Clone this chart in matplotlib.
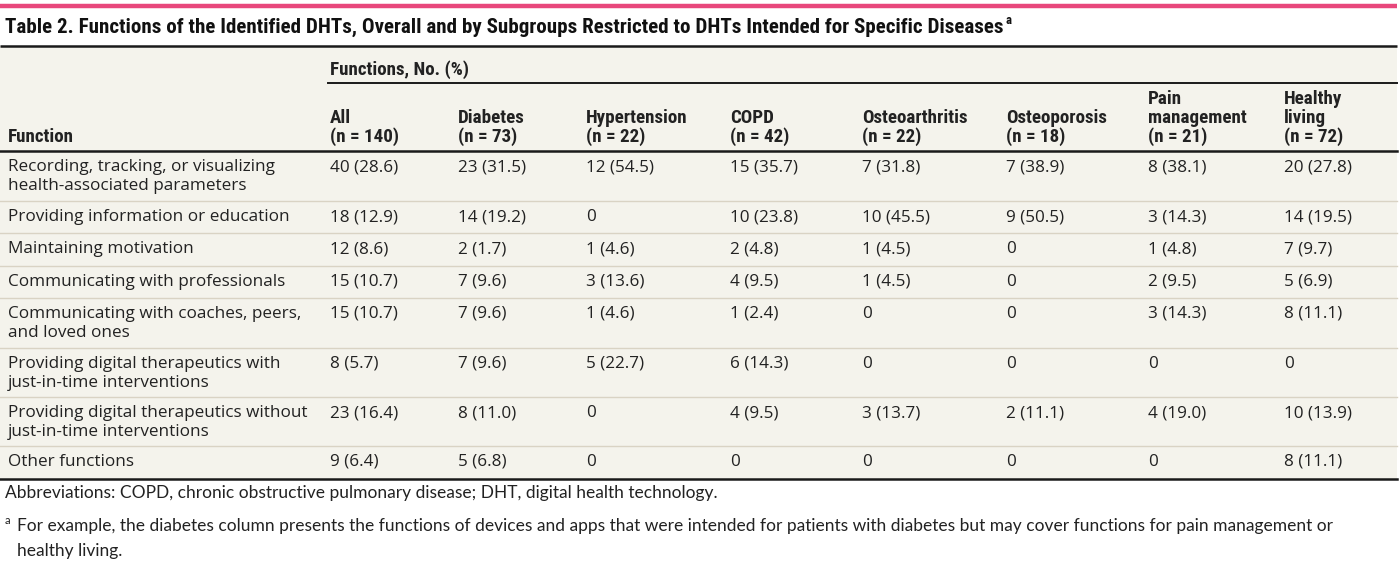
import matplotlib
matplotlib.use('Agg')
import matplotlib.pyplot as plt
from matplotlib import font_manager

def pick_font(names):
    # first installed family from the list
    for n in names:
        try:
            font_manager.findfont(font_manager.FontProperties(family=n), fallback_to_default=False)
            return n
        except Exception:
            pass
    return 'DejaVu Sans'

title = 'Table 2. Functions of the Identified DHTs, Overall and by Subgroups Restricted to DHTs Intended for Specific Diseases'
group_label = 'Functions, No. (%)'
columns = ['All\n(n = 140)', 'Diabetes\n(n = 73)', 'Hypertension\n(n = 22)', 'COPD\n(n = 42)',
           'Osteoarthritis\n(n = 22)', 'Osteoporosis\n(n = 18)', 'Pain\nmanagement\n(n = 21)',
           'Healthy\nliving\n(n = 72)']
functions = ['Recording, tracking, or visualizing\nhealth-associated parameters',
             'Providing information or education',
             'Maintaining motivation',
             'Communicating with professionals',
             'Communicating with coaches, peers,\nand loved ones',
             'Providing digital therapeutics with\njust-in-time interventions',
             'Providing digital therapeutics without\njust-in-time interventions',
             'Other functions']
values = [
    ['40 (28.6)', '23 (31.5)', '12 (54.5)', '15 (35.7)', '7 (31.8)', '7 (38.9)', '8 (38.1)', '20 (27.8)'],
    ['18 (12.9)', '14 (19.2)', '0', '10 (23.8)', '10 (45.5)', '9 (50.5)', '3 (14.3)', '14 (19.5)'],
    ['12 (8.6)', '2 (1.7)', '1 (4.6)', '2 (4.8)', '1 (4.5)', '0', '1 (4.8)', '7 (9.7)'],
    ['15 (10.7)', '7 (9.6)', '3 (13.6)', '4 (9.5)', '1 (4.5)', '0', '2 (9.5)', '5 (6.9)'],
    ['15 (10.7)', '7 (9.6)', '1 (4.6)', '1 (2.4)', '0', '0', '3 (14.3)', '8 (11.1)'],
    ['8 (5.7)', '7 (9.6)', '5 (22.7)', '6 (14.3)', '0', '0', '0', '0'],
    ['23 (16.4)', '8 (11.0)', '0', '4 (9.5)', '3 (13.7)', '2 (11.1)', '4 (19.0)', '10 (13.9)'],
    ['9 (6.4)', '5 (6.8)', '0', '0', '0', '0', '0', '8 (11.1)'],
]
abbrev = 'Abbreviations: COPD, chronic obstructive pulmonary disease; DHT, digital health technology.'
footnote = ('For example, the diabetes column presents the functions of devices and apps that were intended '
            'for patients with diabetes but may cover functions for pain management or\nhealthy living.')

# layout in pixels
W, H = 1400, 565
tab_right = 1397
col_x = [330, 458, 586, 730, 862, 1006, 1148, 1284]
row_edges = [151, 201, 233, 266, 298, 348, 397, 446, 479]
line_h = 19

body_font = pick_font(['Open Sans', 'Noto Sans', 'Lato'])
note_font = pick_font(['Lato', 'Roboto'])
head_font = pick_font(['Liberation Sans Narrow', 'Roboto Condensed', 'Roboto'])
ink = '#222222'

fig = plt.figure(figsize=(W / 100, H / 100), dpi=100)
ax = fig.add_axes([0, 0, 1, 1])
ax.set_xlim(0, W)
ax.set_ylim(H, 0)
ax.axis('off')
rend = fig.canvas.get_renderer()

def fit(text, family, weight, width):
    # font size (pt) that makes text this many pixels wide
    t = ax.text(0, 0, text, fontsize=10, family=family, fontweight=weight)
    w = t.get_window_extent(renderer=rend).width
    t.remove()
    return 10 * width / w

fs_title = fit(title, head_font, 'bold', 1000)
fs_head = fit('Hypertension', head_font, 'bold', 101)
fs_body = fit('Recording, tracking, or visualizing', body_font, 'normal', 267)
fs_note = fit(abbrev, note_font, 'normal', 713)

ax.fill_between([0, tab_right], 46, 479, color='#f4f3ec', lw=0)
ax.plot([0, tab_right], [5.5, 5.5], color='#e8477c', lw=3.2, solid_capstyle='butt')
ax.plot([0, tab_right], [45.5, 45.5], color='#1a1a1a', lw=1.8, solid_capstyle='butt')

tt = ax.text(5, 27, title, fontsize=fs_title, family=head_font, fontweight='bold',
             va='center', ha='left', color='#111111')
bb = tt.get_window_extent(renderer=rend)
ax.text(bb.x1 + 2, 20, 'a', fontsize=fs_title * 0.6, family=head_font, fontweight='bold',
        va='center', ha='left', color='#111111')

# group header
ax.text(col_x[0], 70, group_label, fontsize=fs_head, family=head_font, fontweight='bold',
        va='center', ha='left', color=ink)
ax.plot([col_x[0] - 2, tab_right], [83, 83], color='#1a1a1a', lw=1.4)

# column headers, bottom aligned
ax.text(8, 137, 'Function', fontsize=fs_head, family=head_font, fontweight='bold',
        va='center', ha='left', color=ink)
for x, lab in zip(col_x, columns):
    lines = lab.split('\n')
    for k, ln in enumerate(reversed(lines)):
        ax.text(x, 137 - k * line_h, ln, fontsize=fs_head, family=head_font, fontweight='bold',
                va='center', ha='left', color=ink)
ax.plot([0, tab_right], [151, 151], color='#1a1a1a', lw=1.8)

# body
for i, (fn, row) in enumerate(zip(functions, values)):
    y0 = row_edges[i] + 16
    for k, ln in enumerate(fn.split('\n')):
        ax.text(8, y0 + k * line_h, ln, fontsize=fs_body, family=body_font, va='center', ha='left',
                color=ink)
    for x, v in zip(col_x, row):
        ax.text(x, y0, v, fontsize=fs_body, family=body_font, va='center', ha='left', color=ink)
    if i < len(functions) - 1:
        ax.plot([0, tab_right], [row_edges[i + 1], row_edges[i + 1]], color='#d9d3c4', lw=1.0)
ax.plot([0, tab_right], [479, 479], color='#1a1a1a', lw=1.8)

# notes
ax.text(5, 493, abbrev, fontsize=fs_note, family=note_font, va='center', ha='left', color=ink)
ax.text(5, 521, 'a', fontsize=fs_note * 0.65, family=note_font, va='center', ha='left', color=ink)
fl = footnote.split('\n')
ax.text(17, 526, fl[0], fontsize=fs_note, family=note_font, va='center', ha='left', color=ink)
ax.text(17, 551, fl[1], fontsize=fs_note, family=note_font, va='center', ha='left', color=ink)

fig.savefig('out.png', dpi=100, facecolor='white')
